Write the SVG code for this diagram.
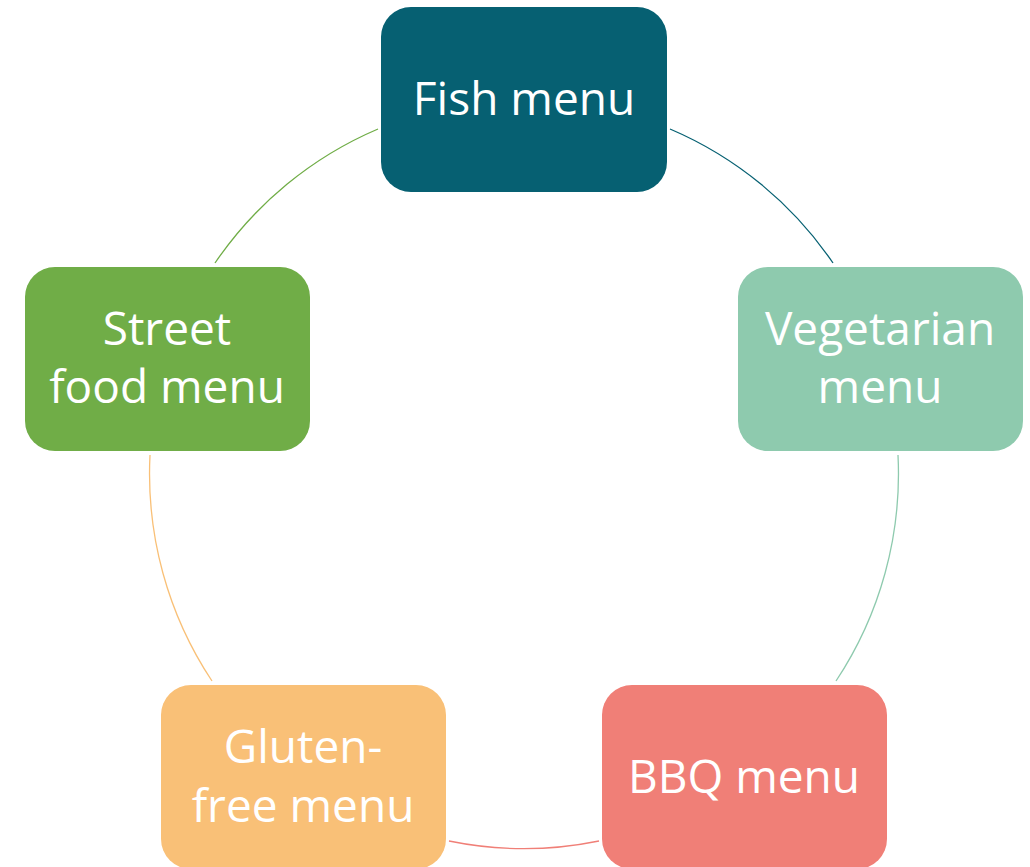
<svg xmlns="http://www.w3.org/2000/svg" width="1030" height="867" viewBox="0 0 1030 867">
<style>
.box{rx:30px;ry:30px}
.t{font-family:"Open Sans",Lato,"Liberation Sans",sans-serif;font-size:46px;fill:#fff;text-anchor:middle}
.c{fill:none;stroke-width:1.3}
</style>
<rect width="1030" height="867" fill="#fff"/>
<g id="connectors">
<path class="c" stroke="#066072" d="M670,129 A375,375 0 0 1 833,263"/>
<path class="c" stroke="#8ECAAE" d="M898,455 A375,375 0 0 1 836,681"/>
<path class="c" stroke="#F07F77" d="M599,841 A375,375 0 0 1 449,841"/>
<path class="c" stroke="#F9C077" d="M212,681 A375,375 0 0 1 150,455"/>
<path class="c" stroke="#70AD47" d="M215,263 A375,375 0 0 1 378,129"/>
</g>
<g id="fish">
<rect class="box" x="381" y="7" width="286" height="185" fill="#066072"/>
<text class="t" x="524" y="115">Fish menu</text>
</g>
<g id="vegetarian">
<rect class="box" x="738" y="267" width="285" height="184" fill="#8ECAAE"/>
<text class="t" x="880" y="345">Vegetarian</text>
<text class="t" x="880" y="403">menu</text>
</g>
<g id="bbq">
<rect class="box" x="602" y="685" width="285" height="184" fill="#F07F77"/>
<text class="t" x="744" y="793">BBQ menu</text>
</g>
<g id="gluten">
<rect class="box" x="161" y="685" width="285" height="184" fill="#F9C077"/>
<text class="t" x="303" y="763">Gluten-</text>
<text class="t" x="303" y="822">free menu</text>
</g>
<g id="street">
<rect class="box" x="25" y="267" width="285" height="184" fill="#70AD47"/>
<text class="t" x="167" y="345">Street</text>
<text class="t" x="167" y="403">food menu</text>
</g>
</svg>
